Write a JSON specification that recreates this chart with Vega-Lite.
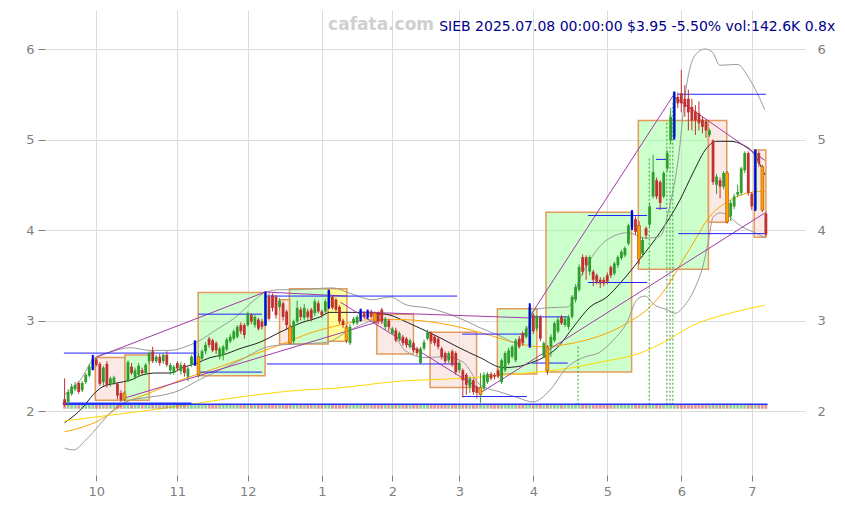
{
  "$schema": "https://vega.github.io/schema/vega-lite/v6.json",
  "width": 760,
  "height": 465,
  "autosize": {"type": "none"},
  "padding": {"left": 45, "top": 10, "right": 40, "bottom": 30},
  "background": "white",
  "config": {
    "view": {"stroke": null},
    "font": "DejaVu Sans",
    "axis": {"domain": false, "labelColor": "#808080", "labelFontSize": 13, "tickColor": "#808080", "gridColor": "#dcdcdc", "gridWidth": 1, "labelFont": "DejaVu Sans"}
  },
  "title": {"text": "SIEB 2025.07.08 00:00:00 $3.95 -5.50% vol:142.6K 0.8x", "anchor": "end", "frame": "bounds", "orient": "top", "offset": -21, "dy": 14, "baseline": "alphabetic", "dx": 10, "color": "#00008b", "fontSize": 14, "fontWeight": "normal", "font": "DejaVu Sans"},
  "datasets": {
    "candles": [
      {"i":0,"o":2.13,"h":2.36,"l":2.05,"c":2.07},{"i":1,"o":2.10,"h":2.24,"l":2.06,"c":2.21},{"i":2,"o":2.19,"h":2.30,"l":2.17,"c":2.27},{"i":3,"o":2.24,"h":2.32,"l":2.22,"c":2.29},{"i":4,"o":2.31,"h":2.33,"l":2.19,"c":2.21},
      {"i":5,"o":2.23,"h":2.33,"l":2.21,"c":2.31},{"i":6,"o":2.32,"h":2.42,"l":2.30,"c":2.40},{"i":7,"o":2.39,"h":2.52,"l":2.37,"c":2.49},{"i":8,"o":2.46,"h":2.62,"l":2.45,"c":2.58,"s":"b"},{"i":9,"o":2.57,"h":2.59,"l":2.49,"c":2.51},
      {"i":10,"o":2.52,"h":2.54,"l":2.28,"c":2.30},{"i":11,"o":2.32,"h":2.50,"l":2.28,"c":2.48},{"i":12,"o":2.52,"h":2.55,"l":2.26,"c":2.29},{"i":13,"o":2.30,"h":2.38,"l":2.27,"c":2.36},{"i":14,"o":2.31,"h":2.39,"l":2.29,"c":2.37},
      {"i":15,"o":2.30,"h":2.32,"l":2.13,"c":2.17},{"i":16,"o":2.20,"h":2.23,"l":2.10,"c":2.12},{"i":17,"o":2.13,"h":2.22,"l":2.11,"c":2.20,"s":"o"},{"i":18,"o":2.33,"h":2.56,"l":2.32,"c":2.54},{"i":19,"o":2.49,"h":2.53,"l":2.40,"c":2.42},
      {"i":20,"o":2.37,"h":2.48,"l":2.35,"c":2.45},{"i":21,"o":2.40,"h":2.53,"l":2.38,"c":2.50},{"i":22,"o":2.45,"h":2.48,"l":2.40,"c":2.42},{"i":23,"o":2.42,"h":2.53,"l":2.40,"c":2.51},{"i":24,"o":2.55,"h":2.66,"l":2.52,"c":2.64},
      {"i":25,"o":2.66,"h":2.71,"l":2.53,"c":2.55},{"i":26,"o":2.55,"h":2.62,"l":2.53,"c":2.60},{"i":27,"o":2.60,"h":2.63,"l":2.50,"c":2.53},{"i":28,"o":2.55,"h":2.64,"l":2.52,"c":2.62},{"i":29,"o":2.62,"h":2.66,"l":2.49,"c":2.51},
      {"i":30,"o":2.45,"h":2.53,"l":2.40,"c":2.51},{"i":31,"o":2.42,"h":2.51,"l":2.40,"c":2.49},{"i":32,"o":2.53,"h":2.55,"l":2.44,"c":2.47},{"i":33,"o":2.44,"h":2.54,"l":2.40,"c":2.51},{"i":34,"o":2.51,"h":2.53,"l":2.38,"c":2.42},
      {"i":35,"o":2.38,"h":2.49,"l":2.33,"c":2.47},{"i":36,"o":2.51,"h":2.62,"l":2.49,"c":2.60},{"i":37,"o":2.51,"h":2.78,"l":2.50,"c":2.77,"s":"b"},{"i":38,"o":2.40,"h":2.64,"l":2.37,"c":2.60,"s":"o"},{"i":39,"o":2.58,"h":2.68,"l":2.56,"c":2.66},
      {"i":40,"o":2.66,"h":2.76,"l":2.63,"c":2.73},{"i":41,"o":2.80,"h":2.82,"l":2.70,"c":2.73},{"i":42,"o":2.78,"h":2.80,"l":2.65,"c":2.67},{"i":43,"o":2.75,"h":2.77,"l":2.63,"c":2.67},{"i":44,"o":2.60,"h":2.71,"l":2.57,"c":2.69},
      {"i":45,"o":2.62,"h":2.73,"l":2.56,"c":2.71},{"i":46,"o":2.68,"h":2.81,"l":2.66,"c":2.79},{"i":47,"o":2.77,"h":2.85,"l":2.75,"c":2.82},{"i":48,"o":2.80,"h":2.90,"l":2.78,"c":2.88},{"i":49,"o":2.82,"h":2.95,"l":2.80,"c":2.93},
      {"i":50,"o":2.95,"h":2.98,"l":2.85,"c":2.88},{"i":51,"o":2.95,"h":2.97,"l":2.80,"c":2.84},{"i":52,"o":2.95,"h":3.10,"l":2.93,"c":3.08},{"i":53,"o":3.06,"h":3.08,"l":2.96,"c":2.99},{"i":54,"o":2.95,"h":3.06,"l":2.92,"c":3.04},
      {"i":55,"o":3.01,"h":3.03,"l":2.89,"c":2.91},{"i":56,"o":2.99,"h":3.02,"l":2.90,"c":2.93},{"i":57,"o":2.95,"h":3.32,"l":2.94,"c":3.30,"s":"b"},{"i":58,"o":3.26,"h":3.30,"l":3.00,"c":3.02},{"i":59,"o":3.28,"h":3.30,"l":3.10,"c":3.14},
      {"i":60,"o":3.26,"h":3.28,"l":3.02,"c":3.06},{"i":61,"o":3.15,"h":3.25,"l":3.12,"c":3.22},{"i":62,"o":3.19,"h":3.21,"l":3.00,"c":3.04},{"i":63,"o":3.10,"h":3.12,"l":2.90,"c":2.95},{"i":64,"o":2.93,"h":2.95,"l":2.74,"c":2.75,"s":"o"},
      {"i":65,"o":2.77,"h":3.01,"l":2.74,"c":2.99},{"i":66,"o":2.99,"h":3.22,"l":2.97,"c":3.14},{"i":67,"o":3.12,"h":3.15,"l":3.00,"c":3.04},{"i":68,"o":3.03,"h":3.18,"l":3.00,"c":3.14},{"i":69,"o":3.10,"h":3.13,"l":3.01,"c":3.04},
      {"i":70,"o":3.12,"h":3.14,"l":2.99,"c":3.02},{"i":71,"o":3.08,"h":3.24,"l":3.05,"c":3.21},{"i":72,"o":3.19,"h":3.22,"l":3.08,"c":3.10},{"i":73,"o":3.10,"h":3.12,"l":3.03,"c":3.06},{"i":74,"o":3.10,"h":3.24,"l":3.07,"c":3.21},
      {"i":75,"o":3.15,"h":3.34,"l":3.13,"c":3.32,"s":"b"},{"i":76,"o":3.26,"h":3.28,"l":3.12,"c":3.14},{"i":77,"o":3.23,"h":3.25,"l":3.10,"c":3.12},{"i":78,"o":3.15,"h":3.17,"l":2.96,"c":2.99},{"i":79,"o":3.00,"h":3.02,"l":2.92,"c":2.95},
      {"i":80,"o":2.93,"h":2.95,"l":2.75,"c":2.78,"s":"o"},{"i":81,"o":2.75,"h":2.96,"l":2.73,"c":2.93},{"i":82,"o":2.97,"h":3.04,"l":2.95,"c":3.02},{"i":83,"o":2.97,"h":3.06,"l":2.95,"c":3.04},{"i":84,"o":3.01,"h":3.13,"l":2.99,"c":3.11,"s":"b"},
      {"i":85,"o":3.08,"h":3.10,"l":3.02,"c":3.04},{"i":86,"o":3.04,"h":3.12,"l":3.02,"c":3.10,"s":"b"},{"i":87,"o":3.10,"h":3.12,"l":3.02,"c":3.04},{"i":88,"o":3.08,"h":3.10,"l":2.97,"c":2.99,"s":"o"},{"i":89,"o":3.08,"h":3.10,"l":2.96,"c":2.99},
      {"i":90,"o":3.12,"h":3.14,"l":2.96,"c":2.99},{"i":91,"o":2.93,"h":3.04,"l":2.90,"c":3.02},{"i":92,"o":3.00,"h":3.02,"l":2.88,"c":2.93},{"i":93,"o":2.86,"h":2.93,"l":2.84,"c":2.91},{"i":94,"o":2.89,"h":2.92,"l":2.76,"c":2.78},
      {"i":95,"o":2.80,"h":2.88,"l":2.77,"c":2.86},{"i":96,"o":2.82,"h":2.84,"l":2.72,"c":2.75},{"i":97,"o":2.80,"h":2.82,"l":2.70,"c":2.73},{"i":98,"o":2.71,"h":2.80,"l":2.69,"c":2.78},{"i":99,"o":2.75,"h":2.77,"l":2.65,"c":2.67},
      {"i":100,"o":2.69,"h":2.71,"l":2.61,"c":2.64},{"i":101,"o":2.53,"h":2.71,"l":2.52,"c":2.69},{"i":102,"o":2.69,"h":2.79,"l":2.67,"c":2.76},{"i":103,"o":2.80,"h":2.90,"l":2.78,"c":2.87},{"i":104,"o":2.86,"h":2.88,"l":2.74,"c":2.77},
      {"i":105,"o":2.82,"h":2.84,"l":2.72,"c":2.75},{"i":106,"o":2.80,"h":2.82,"l":2.68,"c":2.71},{"i":107,"o":2.69,"h":2.71,"l":2.57,"c":2.60},{"i":108,"o":2.64,"h":2.66,"l":2.52,"c":2.55},{"i":109,"o":2.56,"h":2.66,"l":2.53,"c":2.64},
      {"i":110,"o":2.66,"h":2.68,"l":2.49,"c":2.51},{"i":111,"o":2.64,"h":2.66,"l":2.40,"c":2.43},{"i":112,"o":2.45,"h":2.55,"l":2.42,"c":2.53},{"i":113,"o":2.45,"h":2.47,"l":2.15,"c":2.34},{"i":114,"o":2.40,"h":2.42,"l":2.18,"c":2.29},
      {"i":115,"o":2.27,"h":2.38,"l":2.20,"c":2.36},{"i":116,"o":2.34,"h":2.36,"l":2.18,"c":2.21},{"i":117,"o":2.26,"h":2.28,"l":2.14,"c":2.20},{"i":118,"o":2.18,"h":2.42,"l":2.09,"c":2.26,"s":"o"},{"i":119,"o":2.25,"h":2.43,"l":2.22,"c":2.40},
      {"i":120,"o":2.32,"h":2.43,"l":2.30,"c":2.41},{"i":121,"o":2.41,"h":2.43,"l":2.34,"c":2.36},{"i":122,"o":2.40,"h":2.42,"l":2.35,"c":2.38},{"i":123,"o":2.45,"h":2.47,"l":2.36,"c":2.38},{"i":124,"o":2.32,"h":2.58,"l":2.30,"c":2.56},
      {"i":125,"o":2.45,"h":2.66,"l":2.43,"c":2.64},{"i":126,"o":2.53,"h":2.70,"l":2.51,"c":2.67},{"i":127,"o":2.60,"h":2.73,"l":2.58,"c":2.71},{"i":128,"o":2.56,"h":2.80,"l":2.54,"c":2.78},{"i":129,"o":2.80,"h":2.83,"l":2.69,"c":2.71},
      {"i":130,"o":2.86,"h":2.88,"l":2.72,"c":2.75},{"i":131,"o":2.82,"h":2.94,"l":2.80,"c":2.91},{"i":132,"o":2.72,"h":3.19,"l":2.70,"c":3.15,"s":"b"},{"i":133,"o":3.06,"h":3.08,"l":2.85,"c":2.88},{"i":134,"o":2.91,"h":3.06,"l":2.88,"c":3.04},
      {"i":135,"o":3.04,"h":3.06,"l":2.77,"c":2.80},{"i":136,"o":2.60,"h":2.77,"l":2.58,"c":2.75},{"i":137,"o":2.70,"h":2.73,"l":2.40,"c":2.45,"s":"o"},{"i":138,"o":2.71,"h":2.85,"l":2.60,"c":2.82},{"i":139,"o":2.78,"h":2.99,"l":2.76,"c":2.97},
      {"i":140,"o":2.88,"h":3.04,"l":2.86,"c":3.01},{"i":141,"o":3.04,"h":3.06,"l":2.95,"c":2.97},{"i":142,"o":2.95,"h":3.05,"l":2.93,"c":3.02},{"i":143,"o":2.93,"h":3.06,"l":2.90,"c":3.04},{"i":144,"o":3.04,"h":3.28,"l":3.02,"c":3.26},
      {"i":145,"o":3.23,"h":3.40,"l":3.20,"c":3.37},{"i":146,"o":3.34,"h":3.62,"l":3.32,"c":3.59},{"i":147,"o":3.70,"h":3.73,"l":3.50,"c":3.54},{"i":148,"o":3.70,"h":3.72,"l":3.45,"c":3.61},{"i":149,"o":3.54,"h":3.72,"l":3.50,"c":3.70},
      {"i":150,"o":3.54,"h":3.56,"l":3.38,"c":3.45},{"i":151,"o":3.50,"h":3.52,"l":3.40,"c":3.43},{"i":152,"o":3.45,"h":3.48,"l":3.36,"c":3.41},{"i":153,"o":3.45,"h":3.48,"l":3.38,"c":3.41},{"i":154,"o":3.50,"h":3.53,"l":3.40,"c":3.43},
      {"i":155,"o":3.59,"h":3.61,"l":3.47,"c":3.50},{"i":156,"o":3.52,"h":3.65,"l":3.50,"c":3.63},{"i":157,"o":3.61,"h":3.72,"l":3.58,"c":3.70},{"i":158,"o":3.69,"h":3.78,"l":3.67,"c":3.76},{"i":159,"o":3.72,"h":3.82,"l":3.70,"c":3.80},
      {"i":160,"o":3.85,"h":4.07,"l":3.83,"c":4.05},{"i":161,"o":4.03,"h":4.22,"l":4.00,"c":4.20,"s":"b"},{"i":162,"o":4.12,"h":4.15,"l":3.95,"c":3.98},{"i":163,"o":4.05,"h":4.10,"l":3.62,"c":3.68,"s":"o"},{"i":164,"o":3.74,"h":3.92,"l":3.70,"c":3.89},
      {"i":165,"o":4.02,"h":4.04,"l":3.90,"c":3.94},{"i":166,"o":4.06,"h":4.30,"l":4.03,"c":4.26},{"i":167,"o":4.37,"h":4.83,"l":4.35,"c":4.64},{"i":168,"o":4.55,"h":4.58,"l":4.34,"c":4.37},{"i":169,"o":4.53,"h":4.55,"l":4.22,"c":4.30},
      {"i":170,"o":4.37,"h":4.65,"l":4.35,"c":4.63},{"i":171,"o":4.68,"h":4.88,"l":4.65,"c":4.85},{"i":172,"o":4.99,"h":5.35,"l":4.95,"c":5.25},{"i":173,"o":5.03,"h":5.53,"l":5.00,"c":5.52,"s":"b"},{"i":174,"o":5.47,"h":5.52,"l":5.35,"c":5.40},
      {"i":175,"o":5.51,"h":5.77,"l":5.30,"c":5.40},{"i":176,"o":5.45,"h":5.60,"l":5.25,"c":5.36},{"i":177,"o":5.45,"h":5.55,"l":5.10,"c":5.30},{"i":178,"o":5.36,"h":5.45,"l":5.10,"c":5.21},{"i":179,"o":5.31,"h":5.38,"l":5.05,"c":5.21},
      {"i":180,"o":5.29,"h":5.42,"l":5.10,"c":5.18},{"i":181,"o":5.22,"h":5.25,"l":5.07,"c":5.14},{"i":182,"o":5.20,"h":5.22,"l":5.02,"c":5.10},{"i":183,"o":5.05,"h":5.12,"l":5.03,"c":5.10},{"i":184,"o":4.99,"h":5.00,"l":4.50,"c":4.53},
      {"i":185,"o":4.50,"h":4.62,"l":4.40,"c":4.59},{"i":186,"o":4.55,"h":4.58,"l":4.35,"c":4.48},{"i":187,"o":4.48,"h":4.65,"l":4.45,"c":4.63},{"i":188,"o":4.63,"h":4.65,"l":4.07,"c":4.09,"s":"o"},{"i":189,"o":4.15,"h":4.33,"l":4.10,"c":4.30},
      {"i":190,"o":4.26,"h":4.40,"l":4.23,"c":4.37},{"i":191,"o":4.39,"h":4.50,"l":4.36,"c":4.42},{"i":192,"o":4.41,"h":4.70,"l":4.38,"c":4.68},{"i":193,"o":4.66,"h":4.87,"l":4.63,"c":4.85},{"i":194,"o":4.85,"h":4.87,"l":4.38,"c":4.41},
      {"i":195,"o":4.40,"h":4.42,"l":4.22,"c":4.26},{"i":196,"o":4.23,"h":4.89,"l":4.21,"c":4.88,"s":"b"},{"i":197,"o":4.85,"h":4.87,"l":4.70,"c":4.74},{"i":198,"o":4.70,"h":4.72,"l":4.20,"c":4.22,"s":"o"},{"i":199,"o":4.18,"h":4.20,"l":3.93,"c":3.95}
    ],
    "lines": [
      {"k":"ma20","i":0,"v":1.87},{"k":"ma20","i":5.2,"v":2.04},{"k":"ma20","i":8.1,"v":2.18},{"k":"ma20","i":10.9,"v":2.27},{"k":"ma20","i":14.9,"v":2.31},{"k":"ma20","i":18.6,"v":2.34},{"k":"ma20","i":22.2,"v":2.40},{"k":"ma20","i":26.2,"v":2.42},{"k":"ma20","i":29.9,"v":2.42},{"k":"ma20","i":33.6,"v":2.48},{"k":"ma20","i":37.6,"v":2.53},{"k":"ma20","i":41.3,"v":2.59},{"k":"ma20","i":44.9,"v":2.62},{"k":"ma20","i":49.8,"v":2.69},{"k":"ma20","i":55.4,"v":2.76},{"k":"ma20","i":61.1,"v":2.87},{"k":"ma20","i":66.8,"v":2.97},{"k":"ma20","i":72.5,"v":3.04},{"k":"ma20","i":75.3,"v":3.09},{"k":"ma20","i":79.0,"v":3.09},{"k":"ma20","i":83.8,"v":3.09},{"k":"ma20","i":88.6,"v":3.08},{"k":"ma20","i":92.3,"v":3.06},{"k":"ma20","i":97.2,"v":2.98},{"k":"ma20","i":101.7,"v":2.90},{"k":"ma20","i":106.5,"v":2.81},{"k":"ma20","i":111.4,"v":2.71},{"k":"ma20","i":117.9,"v":2.59},{"k":"ma20","i":124.4,"v":2.48},{"k":"ma20","i":128.4,"v":2.49},{"k":"ma20","i":132.1,"v":2.53},{"k":"ma20","i":135.8,"v":2.59},{"k":"ma20","i":139.8,"v":2.70},{"k":"ma20","i":144.4,"v":2.93},{"k":"ma20","i":149.1,"v":3.15},{"k":"ma20","i":153.9,"v":3.26},{"k":"ma20","i":157.6,"v":3.41},{"k":"ma20","i":161.3,"v":3.58},{"k":"ma20","i":163.3,"v":3.68},{"k":"ma20","i":168.9,"v":3.97},{"k":"ma20","i":174.6,"v":4.33},{"k":"ma20","i":178.3,"v":4.63},{"k":"ma20","i":182.3,"v":4.91},{"k":"ma20","i":185.1,"v":4.98},{"k":"ma20","i":188.8,"v":4.98},{"k":"ma20","i":192.5,"v":4.94},{"k":"ma20","i":195.3,"v":4.86},{"k":"ma20","i":198.7,"v":4.61},
      {"k":"ma60","i":0,"v":1.77},{"k":"ma60","i":10.0,"v":1.90},{"k":"ma60","i":17.7,"v":2.10},{"k":"ma60","i":24.2,"v":2.20},{"k":"ma60","i":32.7,"v":2.34},{"k":"ma60","i":41.3,"v":2.45},{"k":"ma60","i":52.6,"v":2.61},{"k":"ma60","i":61.1,"v":2.73},{"k":"ma60","i":69.6,"v":2.86},{"k":"ma60","i":78.1,"v":2.95},{"k":"ma60","i":86.7,"v":3.01},{"k":"ma60","i":95.2,"v":3.01},{"k":"ma60","i":106.5,"v":2.97},{"k":"ma60","i":118.7,"v":2.86},{"k":"ma60","i":128.4,"v":2.75},{"k":"ma60","i":134.9,"v":2.71},{"k":"ma60","i":144.3,"v":2.75},{"k":"ma60","i":153.9,"v":2.86},{"k":"ma60","i":159.6,"v":2.97},{"k":"ma60","i":166.1,"v":3.15},{"k":"ma60","i":170.9,"v":3.37},{"k":"ma60","i":175.5,"v":3.67},{"k":"ma60","i":178.9,"v":3.89},{"k":"ma60","i":182.3,"v":4.11},{"k":"ma60","i":188.8,"v":4.33},{"k":"ma60","i":195.3,"v":4.42},{"k":"ma60","i":198.7,"v":4.43},
      {"k":"ma120","i":0,"v":1.89},{"k":"ma120","i":10.0,"v":1.94},{"k":"ma120","i":24.2,"v":2.01},{"k":"ma120","i":38.4,"v":2.09},{"k":"ma120","i":52.6,"v":2.17},{"k":"ma120","i":66.8,"v":2.23},{"k":"ma120","i":76.2,"v":2.25},{"k":"ma120","i":95.2,"v":2.33},{"k":"ma120","i":112.2,"v":2.36},{"k":"ma120","i":125.5,"v":2.40},{"k":"ma120","i":144.3,"v":2.48},{"k":"ma120","i":152.0,"v":2.54},{"k":"ma120","i":163.3,"v":2.64},{"k":"ma120","i":171.0,"v":2.78},{"k":"ma120","i":176.0,"v":2.90},{"k":"ma120","i":180.3,"v":2.98},{"k":"ma120","i":185.0,"v":3.04},{"k":"ma120","i":189.7,"v":3.09},{"k":"ma120","i":198.7,"v":3.17},
      {"k":"bbu","i":0,"v":2.18},{"k":"bbu","i":4.4,"v":2.34},{"k":"bbu","i":8.6,"v":2.59},{"k":"bbu","i":12.9,"v":2.65},{"k":"bbu","i":18.6,"v":2.70},{"k":"bbu","i":24.2,"v":2.67},{"k":"bbu","i":29.9,"v":2.67},{"k":"bbu","i":35.6,"v":2.73},{"k":"bbu","i":38.4,"v":2.78},{"k":"bbu","i":42.7,"v":2.89},{"k":"bbu","i":48.3,"v":3.03},{"k":"bbu","i":54.0,"v":3.23},{"k":"bbu","i":56.9,"v":3.31},{"k":"bbu","i":61.1,"v":3.34},{"k":"bbu","i":64.8,"v":3.34},{"k":"bbu","i":76.2,"v":3.36},{"k":"bbu","i":81.0,"v":3.30},{"k":"bbu","i":87.5,"v":3.23},{"k":"bbu","i":92.3,"v":3.26},{"k":"bbu","i":97.2,"v":3.17},{"k":"bbu","i":102.8,"v":3.14},{"k":"bbu","i":108.5,"v":3.08},{"k":"bbu","i":113.6,"v":3.00},{"k":"bbu","i":117.9,"v":2.92},{"k":"bbu","i":123.6,"v":2.83},{"k":"bbu","i":128.4,"v":2.75},{"k":"bbu","i":131.2,"v":2.90},{"k":"bbu","i":133.5,"v":3.12},{"k":"bbu","i":136.9,"v":3.14},{"k":"bbu","i":142.9,"v":3.15},{"k":"bbu","i":146.3,"v":3.47},{"k":"bbu","i":149.1,"v":3.67},{"k":"bbu","i":153.9,"v":3.89},{"k":"bbu","i":159.9,"v":3.97},{"k":"bbu","i":164.7,"v":3.91},{"k":"bbu","i":168.9,"v":3.93},{"k":"bbu","i":171.8,"v":4.28},{"k":"bbu","i":174.1,"v":4.77},{"k":"bbu","i":176.3,"v":5.55},{"k":"bbu","i":178.9,"v":5.93},{"k":"bbu","i":181.7,"v":6.00},{"k":"bbu","i":183.7,"v":5.97},{"k":"bbu","i":186.0,"v":5.82},{"k":"bbu","i":190.8,"v":5.83},{"k":"bbu","i":194.5,"v":5.66},{"k":"bbu","i":198.7,"v":5.33},
      {"k":"bbl","i":0,"v":1.59},{"k":"bbl","i":2.5,"v":1.57},{"k":"bbl","i":6.0,"v":1.68},{"k":"bbl","i":10.0,"v":1.85},{"k":"bbl","i":12.9,"v":1.98},{"k":"bbl","i":17.1,"v":2.10},{"k":"bbl","i":21.4,"v":2.14},{"k":"bbl","i":27.1,"v":2.17},{"k":"bbl","i":32.7,"v":2.23},{"k":"bbl","i":37.0,"v":2.32},{"k":"bbl","i":42.7,"v":2.43},{"k":"bbl","i":49.8,"v":2.56},{"k":"bbl","i":56.9,"v":2.70},{"k":"bbl","i":61.1,"v":2.73},{"k":"bbl","i":66.8,"v":2.74},{"k":"bbl","i":74.5,"v":2.76},{"k":"bbl","i":79.5,"v":2.86},{"k":"bbl","i":84.0,"v":2.95},{"k":"bbl","i":88.0,"v":3.00},{"k":"bbl","i":92.3,"v":2.92},{"k":"bbl","i":96.6,"v":2.67},{"k":"bbl","i":102.3,"v":2.59},{"k":"bbl","i":107.9,"v":2.60},{"k":"bbl","i":113.1,"v":2.54},{"k":"bbl","i":117.9,"v":2.29},{"k":"bbl","i":123.6,"v":2.21},{"k":"bbl","i":128.4,"v":2.15},{"k":"bbl","i":132.9,"v":2.10},{"k":"bbl","i":137.7,"v":2.23},{"k":"bbl","i":142.5,"v":2.48},{"k":"bbl","i":147.1,"v":2.59},{"k":"bbl","i":151.9,"v":2.65},{"k":"bbl","i":155.6,"v":2.78},{"k":"bbl","i":159.6,"v":2.98},{"k":"bbl","i":162.4,"v":3.23},{"k":"bbl","i":164.7,"v":3.27},{"k":"bbl","i":167.5,"v":3.17},{"k":"bbl","i":170.9,"v":3.12},{"k":"bbl","i":173.2,"v":3.08},{"k":"bbl","i":176.0,"v":3.17},{"k":"bbl","i":178.9,"v":3.36},{"k":"bbl","i":181.2,"v":3.61},{"k":"bbl","i":182.6,"v":3.86},{"k":"bbl","i":184.0,"v":4.14},{"k":"bbl","i":186.0,"v":4.19},{"k":"bbl","i":188.0,"v":4.17},{"k":"bbl","i":189.7,"v":4.11},{"k":"bbl","i":192.5,"v":4.03},{"k":"bbl","i":195.3,"v":3.98},{"k":"bbl","i":198.7,"v":3.92}
    ],
    "boxes": [
      {"i":8.7,"i2":17.1,"p1":2.12,"p2":2.59,"t":"down"},
      {"i":17.1,"i2":24.0,"p1":2.12,"p2":2.62,"t":"up"},
      {"i":37.9,"i2":56.9,"p1":2.39,"p2":3.31,"t":"up"},
      {"i":61.0,"i2":64.0,"p1":2.74,"p2":3.23,"t":"down"},
      {"i":63.8,"i2":74.8,"p1":2.74,"p2":3.35,"t":"up"},
      {"i":74.8,"i2":80.1,"p1":2.77,"p2":3.35,"t":"flat"},
      {"i":88.6,"i2":99.0,"p1":2.63,"p2":3.07,"t":"down"},
      {"i":103.7,"i2":116.9,"p1":2.26,"p2":2.87,"t":"down"},
      {"i":122.8,"i2":134.0,"p1":2.41,"p2":3.13,"t":"up"},
      {"i":136.6,"i2":160.9,"p1":2.43,"p2":4.196,"t":"up"},
      {"i":162.8,"i2":182.7,"p1":3.566,"p2":5.21,"t":"up"},
      {"i":182.7,"i2":187.9,"p1":4.085,"p2":5.21,"t":"down"},
      {"i":195.7,"i2":199.0,"p1":3.92,"p2":4.884,"t":"down"}
    ],
    "trends": [
      {"i":9.2,"p1":2.597,"i2":56.9,"p2":3.315},
      {"i":17.1,"p1":2.144,"i2":88.7,"p2":2.983},
      {"i":56.9,"p1":3.315,"i2":79.9,"p2":3.27},
      {"i":83.8,"p1":3.094,"i2":132.1,"p2":3.028},
      {"i":78.2,"p1":3.204,"i2":118.4,"p2":2.232},
      {"i":118.4,"p1":2.21,"i2":198.7,"p2":4.188},
      {"i":132.1,"p1":3.05,"i2":172.6,"p2":5.48},
      {"i":172.6,"p1":5.48,"i2":198.7,"p2":4.77}
    ],
    "levels": [
      {"i":-0.2,"i2":37.4,"p":2.64},
      {"i":37.9,"i2":56.0,"p":3.07},
      {"i":37.9,"i2":56.0,"p":2.43},
      {"i":57.4,"i2":111.4,"p":3.27},
      {"i":57.4,"i2":112.2,"p":2.52},
      {"i":112.8,"i2":131.2,"p":2.85},
      {"i":112.8,"i2":131.2,"p":2.16},
      {"i":132.6,"i2":142.8,"p":3.04},
      {"i":132.6,"i2":142.8,"p":2.53},
      {"i":148.5,"i2":165.3,"p":4.16},
      {"i":148.5,"i2":165.3,"p":3.42},
      {"i":167.8,"i2":170.9,"p":4.78},
      {"i":167.8,"i2":170.9,"p":4.24},
      {"i":174.1,"i2":199.0,"p":5.50},
      {"i":174.1,"i2":199.0,"p":3.96}
    ],
    "baselines": [
      {"i":-0.5,"i2":199.5,"p":2.075},
      {"i":-0.5,"i2":36,"p":2.087}
    ],
    "vlines": [
      {"i":145.7,"p1":2.07,"p2":2.73},
      {"i":165.9,"p1":2.07,"p2":4.8},
      {"i":170.9,"p1":2.07,"p2":5.2},
      {"i":171.8,"p1":2.07,"p2":5.3},
      {"i":172.6,"p1":2.07,"p2":5.4}
    ],
    "marks": [
      {"label":"cafata.com","i":89.8,"p":6.265}
    ]
  },
  "encoding": {
    "x": {"field": "i", "type": "quantitative", "scale": {"domain": [-5.56, 210.1], "nice": false, "zero": false, "padding": 0}, "axis": {"values": [9, 32, 52, 73, 93, 112, 133, 154, 175, 195], "labelExpr": "['10','11','12','1','2','3','4','5','6','7'][indexof([9,32,52,73,93,112,133,154,175,195], datum.value)]", "title": null, "grid": true, "tickSize": 6, "labelPadding": 4}}
  },
  "layer": [
    {
      "data": {"name": "boxes"},
      "mark": {"type": "rect", "stroke": "#e39b5b", "strokeWidth": 1.5, "fillOpacity": 0.5},
      "encoding": {
        "x2": {"field": "i2"},
        "y": {"field": "p1", "type": "quantitative", "scale": {"domain": [1.293, 6.431], "nice": false, "zero": false, "padding": 0}, "axis": {"values": [2, 3, 4, 5, 6], "format": "d", "title": null, "grid": true, "tickSize": 7, "labelPadding": 4, "orient": "left"}},
        "y2": {"field": "p2"},
        "fill": {"field": "t", "type": "nominal", "scale": {"domain": ["up", "down", "flat"], "range": ["#99ff99", "#f8d4cc", "#ffff33"]}, "legend": null}
      }
    },
    {
      "data": {"name": "lines"},
      "mark": {"type": "line", "strokeWidth": 1, "interpolate": "monotone"},
      "encoding": {
        "y": {"field": "v", "type": "quantitative", "scale": {"domain": [1.293, 6.431], "nice": false, "zero": false, "padding": 0}, "axis": null},
        "color": {"field": "k", "type": "nominal", "scale": {"domain": ["ma20", "ma60", "ma120", "bbu", "bbl"], "range": ["#222222", "#ffa500", "#ffd700", "#9a9a9a", "#9a9a9a"]}, "legend": null},
        "detail": {"field": "k"}
      }
    },
    {
      "data": {"name": "trends"},
      "mark": {"type": "rule", "color": "#a23aa8", "strokeWidth": 1},
      "encoding": {
        "x2": {"field": "i2"},
        "y": {"field": "p1", "type": "quantitative", "scale": {"domain": [1.293, 6.431], "nice": false, "zero": false, "padding": 0}, "axis": null},
        "y2": {"field": "p2"}
      }
    },
    {
      "data": {"name": "levels"},
      "mark": {"type": "rule", "color": "#2222ff", "strokeWidth": 1},
      "encoding": {
        "x2": {"field": "i2"},
        "y": {"field": "p", "type": "quantitative", "scale": {"domain": [1.293, 6.431], "nice": false, "zero": false, "padding": 0}, "axis": null}
      }
    },
    {
      "data": {"name": "vlines"},
      "mark": {"type": "rule", "color": "#33a033", "strokeWidth": 1, "strokeDash": [2, 2]},
      "encoding": {
        "y": {"field": "p1", "type": "quantitative", "scale": {"domain": [1.293, 6.431], "nice": false, "zero": false, "padding": 0}, "axis": null},
        "y2": {"field": "p2"}
      }
    },
    {
      "data": {"name": "candles"},
      "mark": {"type": "bar", "width": 2.8, "opacity": 0.5},
      "encoding": {
        "y": {"datum": 2.025, "type": "quantitative", "scale": {"domain": [1.293, 6.431], "nice": false, "zero": false, "padding": 0}, "axis": {"values": [2, 3, 4, 5, 6], "format": "d", "title": null, "grid": false, "tickSize": 0, "labelPadding": 12, "orient": "right"}},
        "y2": {"datum": 2.07},
        "color": {"condition": {"test": "datum.c >= datum.o", "value": "#2e9e2e"}, "value": "#c03030"}
      }
    },
    {
      "data": {"name": "baselines"},
      "mark": {"type": "rule", "color": "#2233ff", "strokeWidth": 1.5},
      "encoding": {
        "x2": {"field": "i2"},
        "y": {"field": "p", "type": "quantitative", "scale": {"domain": [1.293, 6.431], "nice": false, "zero": false, "padding": 0}, "axis": null}
      }
    },
    {
      "data": {"name": "candles"},
      "mark": {"type": "rule", "strokeWidth": 1},
      "encoding": {
        "y": {"field": "l", "type": "quantitative", "scale": {"domain": [1.293, 6.431], "nice": false, "zero": false, "padding": 0}, "axis": null},
        "y2": {"field": "h"},
        "color": {"condition": {"test": "datum.c >= datum.o", "value": "#2e9e2e"}, "value": "#c03030"}
      }
    },
    {
      "data": {"name": "candles"},
      "mark": {"type": "bar", "width": 2.8},
      "encoding": {
        "y": {"field": "o", "type": "quantitative", "scale": {"domain": [1.293, 6.431], "nice": false, "zero": false, "padding": 0}, "axis": null},
        "y2": {"field": "c"},
        "color": {"condition": {"test": "datum.c >= datum.o", "value": "#2e9e2e"}, "value": "#c03030"}
      }
    },
    {
      "data": {"name": "candles"},
      "transform": [{"filter": "datum.s == 'o'"}],
      "mark": {"type": "bar", "width": 2.8, "color": "#ffa500", "stroke": "#b0601a", "strokeWidth": 0.6},
      "encoding": {
        "y": {"field": "o", "type": "quantitative", "scale": {"domain": [1.293, 6.431], "nice": false, "zero": false, "padding": 0}, "axis": null},
        "y2": {"field": "c"}
      }
    },
    {
      "data": {"name": "candles"},
      "transform": [{"filter": "datum.s == 'b'"}],
      "mark": {"type": "rule", "color": "#0000ff", "strokeWidth": 2},
      "encoding": {
        "y": {"field": "l", "type": "quantitative", "scale": {"domain": [1.293, 6.431], "nice": false, "zero": false, "padding": 0}, "axis": null},
        "y2": {"field": "h"}
      }
    },
    {
      "data": {"name": "marks"},
      "mark": {"type": "text", "color": "#d0d0d0", "fontSize": 17, "fontWeight": "bold", "font": "DejaVu Sans", "align": "center", "baseline": "middle"},
      "encoding": {
        "y": {"field": "p", "type": "quantitative", "scale": {"domain": [1.293, 6.431], "nice": false, "zero": false, "padding": 0}, "axis": null},
        "text": {"field": "label"}
      }
    }
  ],
  "resolve": {"axis": {"y": "independent"}}
}
